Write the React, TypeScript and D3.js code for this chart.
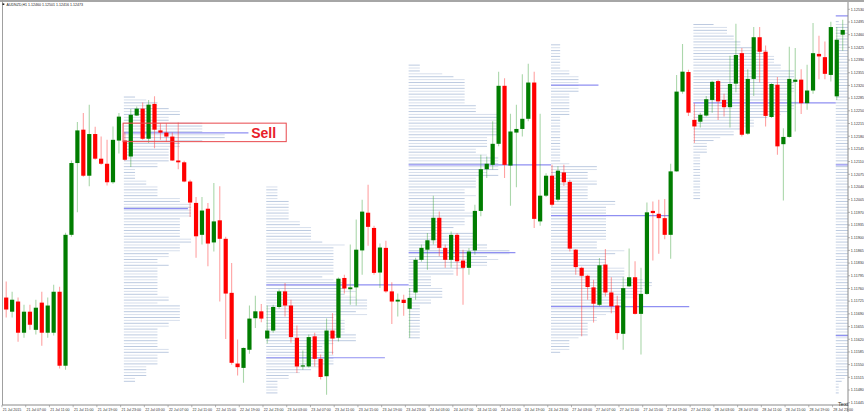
import React from 'react';
import * as d3 from 'd3';

// header of the chart window (symbol, timeframe, last bar OHLC)
const symbolTitle = 'AUDNZD,H1  1.12460 1.12501 1.12416 1.12473';

// hourly candles
const opens = [
    1.11735, 1.11696, 1.11724, 1.11638, 1.11696, 1.11646, 1.11721, 1.11638, 1.11638, 1.11751,
    1.11547, 1.11908, 1.12106, 1.12198, 1.12071, 1.12186, 1.12118, 1.12104, 1.12053, 1.12168,
    1.12168, 1.12124, 1.12237, 1.12256, 1.12173, 1.12269, 1.12196, 1.12190, 1.12179, 1.12113,
    1.12108, 1.12055, 1.11996, 1.11908, 1.11980, 1.11887, 1.11948, 1.11897, 1.11748, 1.11553,
    1.11541, 1.11591, 1.11678, 1.11697, 1.11622, 1.11644, 1.11709, 1.11752, 1.11713, 1.11624,
    1.11545, 1.11545, 1.11628, 1.11566, 1.11518, 1.11644, 1.11624, 1.11789, 1.11758, 1.11763,
    1.11865, 1.11969, 1.11927, 1.11804, 1.11872, 1.11752, 1.11724, 1.11729, 1.11704, 1.11749,
    1.11839, 1.11867, 1.11893, 1.11955, 1.11872, 1.11839, 1.11908, 1.11837, 1.11817, 1.11865,
    1.11974, 1.12089, 1.12101, 1.12159, 1.12319, 1.12099, 1.12190, 1.12200, 1.12228, 1.12328,
    1.11945, 1.12016, 1.12071, 1.12005, 1.12080, 1.12054, 1.11867, 1.11817, 1.11795, 1.11763,
    1.11715, 1.11826, 1.11749, 1.11713, 1.11635, 1.11766, 1.11791, 1.11690, 1.11745, 1.11974,
    1.11966, 1.11954, 1.11908, 1.12083, 1.12303, 1.12357, 1.12225, 1.12220, 1.12237, 1.12280,
    1.12332, 1.12280, 1.12260, 1.12325, 1.12409, 1.12187, 1.12338, 1.12453, 1.12413, 1.12233,
    1.12322, 1.12158, 1.12178, 1.12330, 1.12336, 1.12271, 1.12306, 1.12407, 1.12398, 1.12349,
    1.12290, 1.12460,
];
const highs = [
    1.11779, 1.11751, 1.11735, 1.11715, 1.11715, 1.11729, 1.11751, 1.11735, 1.11770, 1.11765,
    1.11914, 1.12113, 1.12219, 1.12244, 1.12267, 1.12206, 1.12179, 1.12170, 1.12207, 1.12244,
    1.12191, 1.12255, 1.12262, 1.12273, 1.12280, 1.12290, 1.12216, 1.12216, 1.12190, 1.12218,
    1.12112, 1.12060, 1.12012, 1.12012, 1.11996, 1.12051, 1.12042, 1.11903, 1.11830, 1.11619,
    1.11597, 1.11713, 1.11740, 1.11717, 1.11713, 1.11715, 1.11757, 1.11775, 1.11729, 1.11658,
    1.11589, 1.11633, 1.11638, 1.11578, 1.11677, 1.11692, 1.11790, 1.11798, 1.11881, 1.11950,
    1.12005, 1.12046, 1.11933, 1.11884, 1.11892, 1.11777, 1.11746, 1.11743, 1.11761, 1.11845,
    1.11881, 1.11913, 1.12016, 1.11972, 1.11881, 1.11917, 1.11913, 1.11867, 1.11872, 1.11991,
    1.12129, 1.12124, 1.12221, 1.12358, 1.12340, 1.12242, 1.12267, 1.12351, 1.12380, 1.12358,
    1.12242, 1.12078, 1.12101, 1.12097, 1.12101, 1.12060, 1.11869, 1.11820, 1.11798, 1.11784,
    1.11844, 1.11869, 1.11791, 1.11740, 1.11791, 1.11870, 1.11835, 1.11817, 1.11997, 1.12000,
    1.12005, 1.12007, 1.12104, 1.12349, 1.12434, 1.12363, 1.12271, 1.12245, 1.12291, 1.12333,
    1.12336, 1.12297, 1.12402, 1.12490, 1.12423, 1.12365, 1.12481, 1.12481, 1.12430, 1.12326,
    1.12343, 1.12202, 1.12427, 1.12423, 1.12365, 1.12377, 1.12492, 1.12457, 1.12441, 1.12496,
    1.12481, 1.12501,
];
const lows = [
    1.11680, 1.11680, 1.11613, 1.11624, 1.11646, 1.11633, 1.11602, 1.11624, 1.11630, 1.11539,
    1.11536, 1.11903, 1.11970, 1.12068, 1.12042, 1.12115, 1.12101, 1.12044, 1.12049, 1.12132,
    1.12112, 1.12095, 1.12236, 1.12170, 1.12161, 1.12147, 1.12170, 1.12165, 1.12112, 1.12089,
    1.12053, 1.11957, 1.11845, 1.11881, 1.11821, 1.11862, 1.11724, 1.11621, 1.11550, 1.11520,
    1.11500, 1.11580, 1.11651, 1.11667, 1.11608, 1.11638, 1.11704, 1.11683, 1.11610, 1.11527,
    1.11536, 1.11542, 1.11545, 1.11509, 1.11467, 1.11578, 1.11614, 1.11746, 1.11715, 1.11713,
    1.11798, 1.11878, 1.11798, 1.11761, 1.11748, 1.11662, 1.11683, 1.11685, 1.11624, 1.11729,
    1.11834, 1.11812, 1.11881, 1.11849, 1.11817, 1.11817, 1.11795, 1.11715, 1.11798, 1.11853,
    1.11959, 1.12065, 1.12088, 1.12152, 1.12065, 1.11988, 1.12039, 1.12179, 1.12221, 1.11927,
    1.11933, 1.12012, 1.11986, 1.12000, 1.12043, 1.11862, 1.11798, 1.11628, 1.11729, 1.11666,
    1.11711, 1.11738, 1.11692, 1.11619, 1.11591, 1.11764, 1.11688, 1.11578, 1.11743, 1.11837,
    1.11856, 1.11896, 1.11842, 1.12082, 1.12297, 1.12236, 1.12161, 1.12204, 1.12234, 1.12245,
    1.12225, 1.12234, 1.12204, 1.12301, 1.12179, 1.12184, 1.12291, 1.12328, 1.12207, 1.12230,
    1.12129, 1.12003, 1.12176, 1.12193, 1.12241, 1.12253, 1.12297, 1.12337, 1.12337, 1.12331,
    1.12280, 1.12416,
];
const closes = [
    1.11702, 1.11729, 1.11638, 1.11696, 1.11660, 1.11707, 1.11638, 1.11713, 1.11751, 1.11547,
    1.11908, 1.12106, 1.12196, 1.12071, 1.12186, 1.12118, 1.12104, 1.12053, 1.12170, 1.12234,
    1.12115, 1.12239, 1.12256, 1.12173, 1.12267, 1.12198, 1.12190, 1.12179, 1.12113, 1.12108,
    1.12055, 1.11997, 1.11904, 1.11975, 1.11884, 1.11945, 1.11897, 1.11746, 1.11555, 1.11543,
    1.11596, 1.11677, 1.11697, 1.11677, 1.11644, 1.11709, 1.11752, 1.11713, 1.11626, 1.11545,
    1.11548, 1.11626, 1.11566, 1.11516, 1.11644, 1.11622, 1.11787, 1.11760, 1.11763, 1.11867,
    1.11972, 1.11930, 1.11803, 1.11873, 1.11752, 1.11724, 1.11729, 1.11720, 1.11734, 1.11839,
    1.11872, 1.11893, 1.11955, 1.11872, 1.11839, 1.11908, 1.11835, 1.11817, 1.11862, 1.11974,
    1.12089, 1.12104, 1.12159, 1.12319, 1.12101, 1.12193, 1.12200, 1.12228, 1.12328, 1.11952,
    1.12016, 1.12071, 1.11991, 1.12085, 1.12053, 1.11870, 1.11819, 1.11795, 1.11764, 1.11718,
    1.11824, 1.11749, 1.11711, 1.11637, 1.11761, 1.11791, 1.11690, 1.11745, 1.11970, 1.11968,
    1.11954, 1.11908, 1.12083, 1.12303, 1.12358, 1.12245, 1.12207, 1.12239, 1.12282, 1.12330,
    1.12276, 1.12260, 1.12324, 1.12404, 1.12184, 1.12338, 1.12453, 1.12413, 1.12236, 1.12324,
    1.12152, 1.12178, 1.12338, 1.12336, 1.12271, 1.12306, 1.12409, 1.12400, 1.12352, 1.12481,
    1.12446, 1.12473,
];

const timeLabels = [
    '21 Jul 2015', '21 Jul 07:00', '21 Jul 11:00', '21 Jul 15:00', '21 Jul 19:00', '21 Jul 23:00',
    '22 Jul 03:00', '22 Jul 07:00', '22 Jul 11:00', '22 Jul 15:00', '22 Jul 19:00', '22 Jul 23:00',
    '23 Jul 03:00', '23 Jul 07:00', '23 Jul 11:00', '23 Jul 15:00', '23 Jul 19:00', '23 Jul 23:00',
    '24 Jul 03:00', '24 Jul 07:00', '24 Jul 11:00', '24 Jul 15:00', '24 Jul 19:00', '24 Jul 23:00',
    '27 Jul 03:00', '27 Jul 07:00', '27 Jul 11:00', '27 Jul 15:00', '27 Jul 19:00', '27 Jul 23:00',
    '28 Jul 03:00', '28 Jul 07:00', '28 Jul 11:00', '28 Jul 15:00', '28 Jul 19:00', '28 Jul 23:00',
];

const priceTicks = [
    1.1253, 1.12495, 1.1246, 1.12425, 1.1239, 1.12355, 1.1232, 1.12285, 1.1225, 1.12215, 1.1218,
    1.12145, 1.1211, 1.12075, 1.1204, 1.12005, 1.1197, 1.11935, 1.119, 1.11865, 1.1183, 1.11795,
    1.1176, 1.11725, 1.1169, 1.11655, 1.1162, 1.11585, 1.1155, 1.11515, 1.1148, 1.11445,
];

// daily market profile sessions (first and last bar of every day), last one = whole range
const sessionFirst = [20, 44, 68, 92, 116, 0];
const sessionLast = [43, 67, 91, 115, 139, 141];
const sessionDrawAt = [20, 44, 68, 92, 116, 140];

// highlighted profile levels (blue): session, price, length in bars
const levelSession = [0, 0, 1, 1, 2, 2, 3, 3, 3, 4, 5, 5, 5];
const levelPrices = [
    1.12189, 1.1198, 1.1177, 1.11569, 1.12101, 1.11859, 1.12321, 1.11961, 1.1171, 1.12272, 1.12512,
    1.12101, 1.1163,
];
const levelBars = [21, 10.8, 24, 20, 24, 18, 8, 20, 23.3, 24, 4, 4, 4];

// the "Sell" zone annotation
const sellTop = 1.12216;
const sellBottom = 1.12165;
const sellFirstBar = 19.7;
const sellLastBar = 47.2;

const W = 864;
const H = 412;
const plot = { left: 2, right: 848, top: 2, bottom: 405 };

const App: React.FC = () => {
    const x = d3.scaleLinear().domain([0, opens.length - 1]).range([6.2, 842.7]);
    const y = d3.scaleLinear().domain([1.11445, 1.1253]).range([402.7, 9.3]);
    const dx = x(1) - x(0);
    const bodyW = 4.2;
    const step = 0.00008;
    const profileMax = 17 * dx;

    const profiles = sessionFirst.map((first, s) => {
        const idx = d3.range(first, sessionLast[s] + 1);
        const lo = d3.min(idx, (i) => lows[i]) as number;
        const hi = d3.max(idx, (i) => highs[i]) as number;
        const levels = d3.range(Math.ceil(lo / step), Math.floor(hi / step) + 1).map((k) => k * step);
        const counts = levels.map((p) => idx.filter((i) => lows[i] <= p && highs[i] >= p).length);
        const maxC = d3.max(counts) || 1;
        const x0 = x(sessionDrawAt[s]) - 1;
        return levels.map((p, k) => ({ p, x0, len: (counts[k] / maxC) * profileMax, k }));
    });

    const font = "'Liberation Sans', Arial, sans-serif";

    return (
        <svg
            width={W}
            height={H}
            style={{ position: 'absolute', left: 0, top: 0, background: '#fff' }}
            xmlns="http://www.w3.org/2000/svg"
        >
            <defs>
                <clipPath id="plotClip">
                    <rect x={plot.left + 0.5} y={plot.top} width={plot.right - plot.left - 0.5} height={plot.bottom - plot.top} />
                </clipPath>
            </defs>
            <rect x={0} y={0} width={W} height={H} fill="#fff" />

            <g clipPath="url(#plotClip)">
                {/* market profile lines */}
                {profiles.map((lines, s) => (
                    <g key={'pf' + s}>
                        {lines.map((d) => (
                            <line
                                key={d.k}
                                x1={d.x0}
                                x2={d.x0 + d.len}
                                y1={y(d.p)}
                                y2={y(d.p)}
                                stroke={d.k % 2 === 0 ? '#bccae0' : '#d7dfec'}
                                strokeWidth={1}
                            />
                        ))}
                    </g>
                ))}

                {/* highlighted levels */}
                {levelPrices.map((p, i) => {
                    const x0 = x(sessionDrawAt[levelSession[i]]) - 1;
                    return (
                        <line
                            key={'lv' + i}
                            x1={x0}
                            x2={x0 + levelBars[i] * dx}
                            y1={y(p)}
                            y2={y(p)}
                            stroke="#8f8ff2"
                            strokeWidth={1.2}
                        />
                    );
                })}

                {/* candles */}
                {opens.map((o, i) => {
                    const c = closes[i];
                    const up = c >= o;
                    const top = y(Math.max(o, c));
                    const h = Math.max(1.2, Math.abs(y(o) - y(c)));
                    return (
                        <g key={'c' + i}>
                            <line
                                x1={x(i)}
                                x2={x(i)}
                                y1={y(highs[i])}
                                y2={y(lows[i])}
                                stroke={up ? '#2e9a2e' : '#ff3030'}
                                strokeOpacity={up ? 0.4 : 0.45}
                                strokeWidth={1.1}
                            />
                            <rect
                                x={x(i) - bodyW / 2}
                                y={top}
                                width={bodyW}
                                height={h}
                                fill={up ? '#007d00' : '#ff0000'}
                            />
                        </g>
                    );
                })}

                {/* Sell zone */}
                <rect
                    x={x(sellFirstBar)}
                    y={y(sellTop)}
                    width={x(sellLastBar) - x(sellFirstBar)}
                    height={y(sellBottom) - y(sellTop)}
                    fill="none"
                    stroke="#e8474c"
                    strokeWidth={1}
                />
                <text
                    x={x(sellLastBar) - 35}
                    y={y(sellBottom) - 3.6}
                    fontFamily={font}
                    fontWeight="bold"
                    fontSize={14}
                    fill="#e8202a"
                >
                    Sell
                </text>
            </g>

            {/* frame */}
            <rect x={0} y={0} width={W} height={2} fill="#a6a6a6" />
            <line x1={plot.left + 0.5} x2={plot.left + 0.5} y1={0} y2={plot.bottom} stroke="#a0a0a0" strokeWidth={1} />
            <line x1={plot.right} x2={plot.right} y1={2} y2={H} stroke="#8a8a8a" strokeWidth={1} />
            <line x1={plot.left} x2={plot.right} y1={plot.bottom} y2={plot.bottom} stroke="#8a8a8a" strokeWidth={1} />

            {/* header */}
            <rect x={2.5} y={3.4} width={1.8} height={1.6} fill="#222" />
            <text x={6.5} y={6.2} fontFamily={font} fontSize={3.6} fill="#222">
                {symbolTitle}
            </text>

            {/* price axis */}
            {priceTicks.map((p) => (
                <g key={'pt' + p}>
                    <line x1={plot.right} x2={plot.right + 2} y1={y(p)} y2={y(p)} stroke="#8a8a8a" strokeWidth={0.6} />
                    <text x={plot.right + 2.8} y={y(p) + 1.3} fontFamily={font} fontSize={3.7} fill="#333">
                        {p.toFixed(5)}
                    </text>
                </g>
            ))}

            {/* time axis */}
            {timeLabels.map((t, k) => {
                const tx = x(4 * k - 1) + 1.7;
                return (
                    <g key={'tl' + k}>
                        <line x1={tx} x2={tx} y1={plot.bottom} y2={plot.bottom + 2.2} stroke="#8a8a8a" strokeWidth={0.6} />
                        <text x={tx + 0.8} y={410.6} fontFamily={font} fontSize={3.6} fill="#333">
                            {t}
                        </text>
                    </g>
                );
            })}

            <text x={838} y={406.2} fontFamily={font} fontSize={5.6} fill="#333">
                Text
            </text>
        </svg>
    );
};

export default App;
